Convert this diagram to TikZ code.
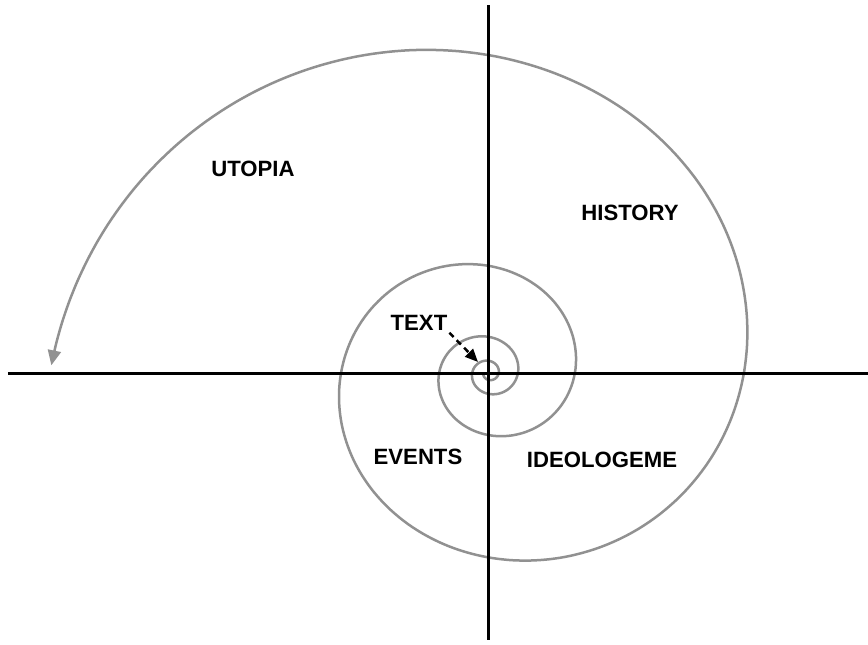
\documentclass[tikz,border=0pt]{standalone}
\usepackage{fontspec}
\setmainfont{Liberation Sans}
\usetikzlibrary{arrows.meta}
\definecolor{spiralgray}{RGB}{145,145,145}
\tikzset{
  axisline/.style={line width=0.6mm, black},
  spiralline/.style={line width=0.5mm, spiralgray},
  lbl/.style={font=\bfseries\fontsize{12.6}{14}\selectfont, inner sep=1pt},
  ptr/.style={line width=0.5mm, black, dash pattern=on 1.2mm off 0.9mm,
    -{Triangle[length=2.6mm,width=2.2mm]}},
}
\begin{document}
\begin{tikzpicture}[x=0.2mm,y=0.2mm,
  declare function={spr(\t)=439*exp(0.003026*(\t-180))*(1-0.025*(1-cos(2*\t)));}]
\useasboundingbox (-489,-271) rectangle (379,373);
% axes
\coordinate (west) at (-481,0);
\coordinate (east) at (379,0);
\coordinate (north) at (0,368);
\coordinate (south) at (0,-267);
\coordinate (core) at (-11,11);
% spiral
\draw[spiralline,-{Triangle[length=3mm,width=2.6mm]}] plot[domain=-1260:179,samples=500,smooth] ({spr(\x)*cos(\x)},{spr(\x)*sin(\x)});
\draw[axisline] (west) -- (east);
\draw[axisline] (north) -- (south);
% labels
\node[lbl] (utopia) at (-236,204) {UTOPIA};
\node[lbl] (history) at (141,160) {HISTORY};
\node[lbl] (txt) at (-70,50) {TEXT};
\node[lbl] (events) at (-71,-84) {EVENTS};
\node[lbl] (ideo) at (113,-87) {IDEOLOGEME};
\draw[ptr] (txt.south east) -- (core);
\end{tikzpicture}
\end{document}
